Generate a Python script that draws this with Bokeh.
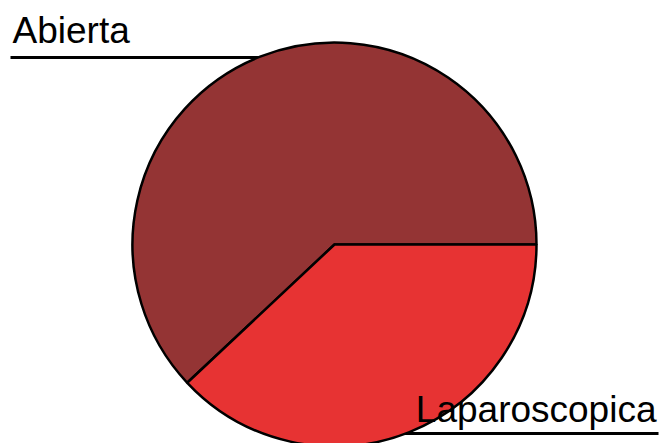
import numpy as np
from bokeh.plotting import figure
from bokeh.models import Range1d, ColumnDataSource
from bokeh.core.properties import value
from bokeh.embed import file_html
from bokeh.resources import INLINE

# Data
categories = ["Abierta", "Laparoscopica"]
values = [62, 38]
colors = ["#943434", "#E73333"]

W, H = 659, 443
# layout (pixel space, y measured from top)
cx_px, cy_px, r_px = 334, 244, 202

def ty(y):
    return H - y

fr = np.array(values, dtype=float) / sum(values)
ends = np.cumsum(fr) * 2 * np.pi
starts = np.concatenate([[0.0], ends[:-1]])

p = figure(width=W, height=H, x_range=Range1d(0, W), y_range=Range1d(0, H),
           output_backend="svg", toolbar_location=None,
           x_axis_location=None, y_axis_location=None,
           min_border=0, min_border_left=0, min_border_right=0,
           min_border_top=0, min_border_bottom=0)
p.grid.visible = False
p.outline_line_color = None
p.background_fill_color = "white"
p.border_fill_color = "white"

# label leader lines (drawn beneath the pie, ending at its edge)
p.line(x=[10, cx_px], y=[ty(57), ty(57)], line_color="black", line_width=3)
p.line(x=[cx_px, W - 1], y=[ty(433), ty(433)], line_color="black", line_width=3)

src = ColumnDataSource(dict(cat=categories, start=starts, end=ends, color=colors))
p.wedge(x=cx_px, y=ty(cy_px), radius=r_px, start_angle="start", end_angle="end",
        fill_color="color", line_color="black", line_width=2.5, source=src)

p.text(x=[12], y=[ty(30)], text=[categories[0]], text_font=value("Liberation Sans"),
       text_font_size="37px", text_color="black", text_align="left",
       text_baseline="alphabetic")
p.text(x=[W - 3], y=[ty(409)], text=[categories[1]], text_font=value("Liberation Sans"),
       text_font_size="37px", text_color="black", text_align="right",
       text_baseline="alphabetic")

open("out.html", "w").write(file_html(p, INLINE))
